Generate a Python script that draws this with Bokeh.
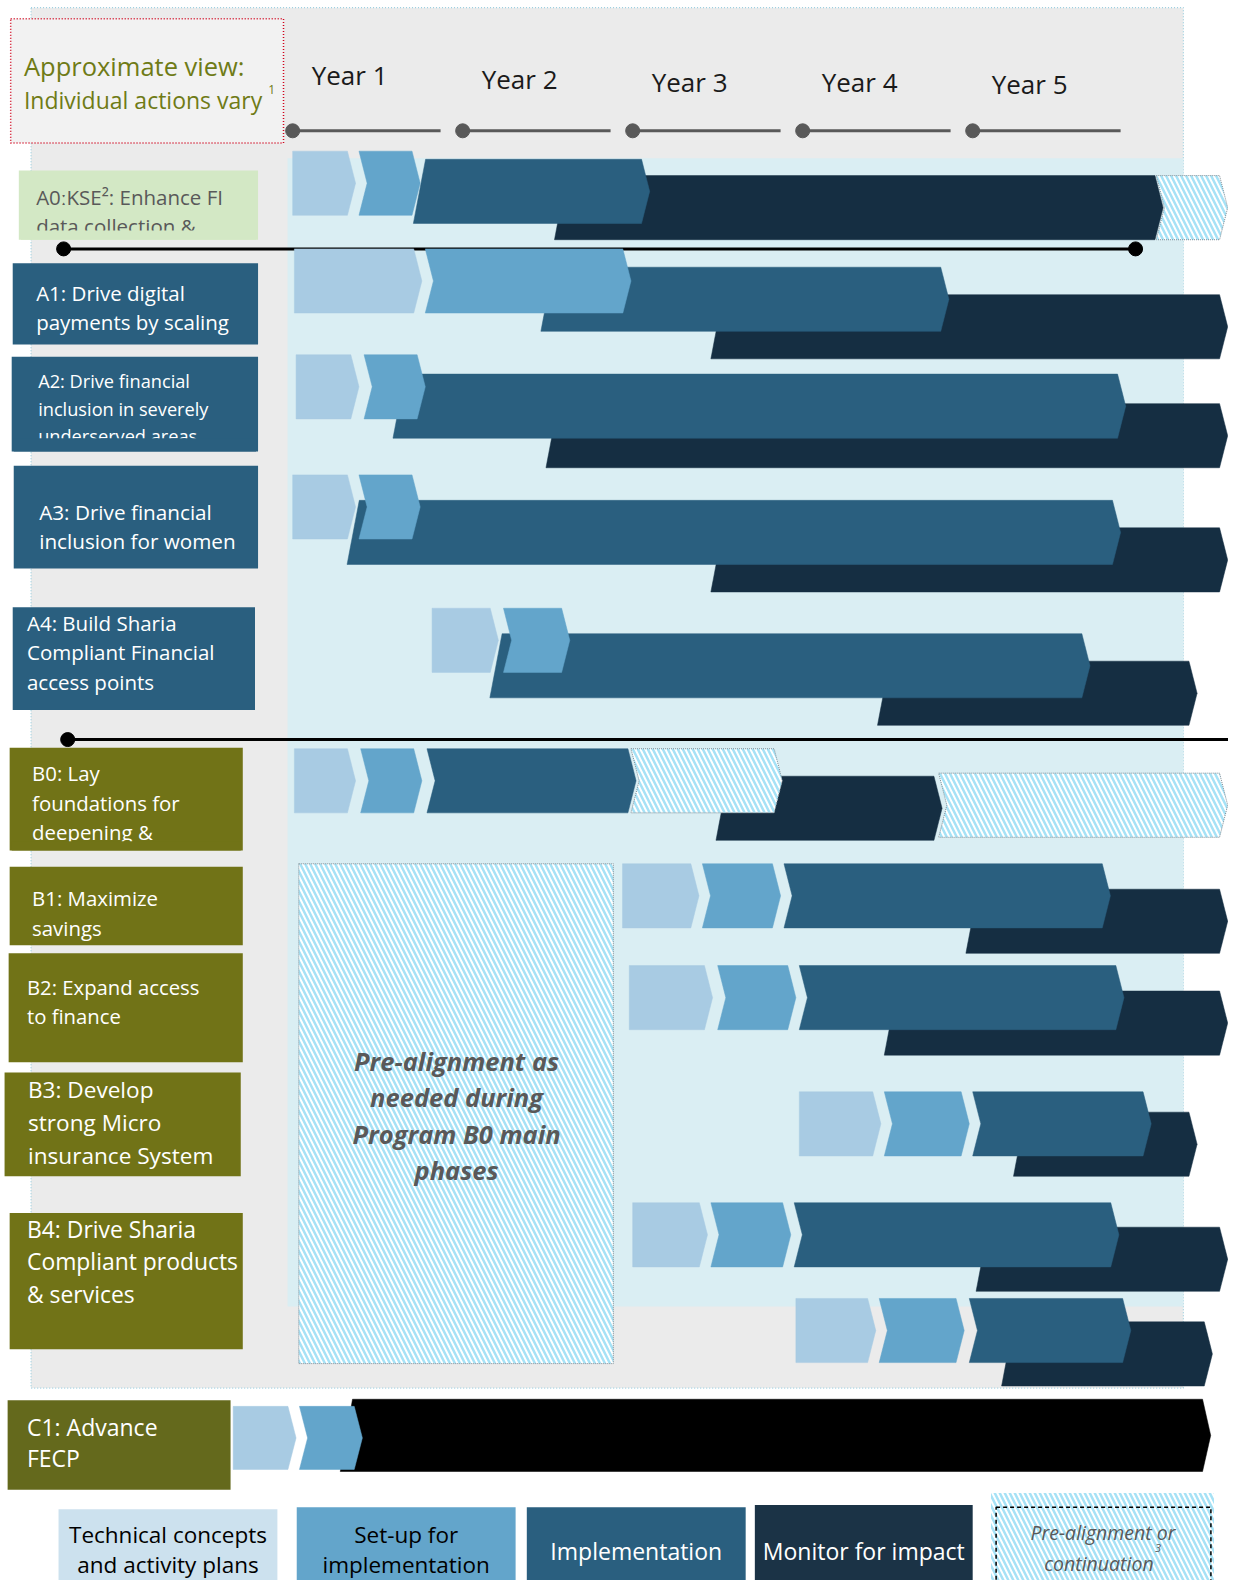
from bokeh.plotting import figure
from bokeh.models import Range1d, ColumnDataSource
from bokeh.core.properties import value
from bokeh.embed import file_html
from bokeh.resources import INLINE

# ---------------- data: phase start/end in years from start of Year 1 ----------------
ROWS = ["A0", "A1", "A2", "A3", "A4", "B0", "B1", "B2", "B3", "B4a", "B4b", "C1"]

tech_start = [0.00, 0.01, 0.02, 0.00, 0.82, 0.01, 1.94, 1.98, 2.98, 2.00, 2.96, -0.35]
tech_end = [0.37, 0.76, 0.39, 0.37, 1.21, 0.37, 2.39, 2.47, 3.46, 2.44, 3.43, 0.02]
setup_start = [0.39, 0.78, 0.42, 0.39, 1.24, 0.40, 2.41, 2.50, 3.48, 2.46, 3.45, 0.04]
setup_end = [0.75, 1.99, 0.78, 0.75, 1.63, 0.76, 2.87, 2.96, 3.98, 2.93, 3.95, 0.41]

impl_rows = ["A0", "A1", "A2", "A3", "A4", "B0", "B1", "B2", "B3", "B4a", "B4b"]
impl_start = [0.71, 1.46, 0.59, 0.32, 1.16, 0.79, 2.89, 2.98, 4.00, 2.95, 3.98]
impl_end = [2.10, 3.86, 4.90, 4.87, 4.69, 2.02, 4.81, 4.89, 5.05, 4.86, 4.93]

mon_rows = ["A0", "A1", "A2", "A3", "A4", "B0", "B1", "B2", "B3", "B4a", "B4b"]
mon_start = [1.54, 2.46, 1.49, 2.46, 3.44, 2.49, 3.96, 3.48, 4.24, 4.02, 4.17]
mon_end = [5.12, 5.50, 5.50, 5.50, 5.32, 3.82, 5.50, 5.50, 5.32, 5.50, 5.41]

cont_rows = ["A0", "B0", "B0"]
cont_start = [5.08, 1.99, 3.80]
cont_end = [5.50, 2.88, 5.50]

fecp_start = [0.28]
fecp_end = [5.40]

years = ["Year 1", "Year 2", "Year 3", "Year 4", "Year 5"]

labels = {
    "A0": ["A0\u02d0KSE\u00b2: Enhance FI", "data collection &"],
    "A1": ["A1: Drive digital", "payments by scaling"],
    "A2": ["A2: Drive financial", "inclusion in severely", "underserved areas"],
    "A3": ["A3: Drive financial", "inclusion for women"],
    "A4": ["A4: Build Sharia", "Compliant Financial", "access points"],
    "B0": ["B0: Lay", "foundations for", "deepening &"],
    "B1": ["B1: Maximize", "savings"],
    "B2": ["B2: Expand access", "to finance"],
    "B3": ["B3: Develop", "strong Micro", "insurance System"],
    "B4": ["B4: Drive Sharia", "Compliant products", "& services"],
    "C1": ["C1: Advance", "FECP"],
}
legend_texts = [["Technical concepts", "and activity plans"], ["Set-up for", "implementation"],
                ["Implementation"], ["Monitor for impact"], ["Pre-alignment or", "continuation"]]
pre_text = ["Pre-alignment as", "needed during", "Program B0 main", "phases"]

# ---------------- layout (units: pixels of the reference frame shown at 1222x1568) ----------------
SCALE = 1244 / 1222.0
FRAME_W = 1228 / SCALE
FRAME_H = 1580 / SCALE

ROW_TOP = {  # (technical/set-up top, implementation top, monitor top)
    "A0": (148, 156, 172), "A1": (244, 262, 289), "A2": (348, 367, 396),
    "A3": (466, 491, 518), "A4": (597, 622, 649), "B0": (735, 735, 762),
    "B1": (848, 848, 873), "B2": (948, 948, 973), "B3": (1072, 1072, 1092),
    "B4a": (1181, 1181, 1205), "B4b": (1275, 1275, 1298), "C1": (1381, 1374, 0),
}
CONT_TOP = [172, 735, 759]
BAR_H = 63
PT = 8 / 167.0     # arrow tip depth (years)
SL = 12 / 167.0    # left slant (years)

C_TECH, C_SETUP, C_IMPL, C_MON = "#A8CBE3", "#63A5CB", "#2A5F7F", "#152E42"
OLIVE, OLIVE2, GREY_BG, CYAN_BG = "#717317", "#64691C", "#EBEBEB", "#DAEEF3"
HATCH = dict(hatch_pattern="\\", hatch_color="#A6E2F6", hatch_weight=2.5, hatch_scale=10)
FONT = "Open Sans"

x0_year = -287 / 167.0
x1_year = (FRAME_W - 287) / 167.0
p = figure(width=1228, height=1580, x_range=Range1d(x0_year, x1_year), y_range=Range1d(FRAME_H, 0),
           output_backend="svg", toolbar_location=None, min_border=0)
p.extra_x_ranges = {"px": Range1d(0, FRAME_W)}
p.axis.visible = False
p.grid.visible = False
p.outline_line_color = None
p.background_fill_color = "white"


def shape(kind, a, b, yt, h=BAR_H):
    ym, yb = yt + h / 2.0, yt + h
    if kind == "pent":
        return [a, b - PT, b, b - PT, a], [yt, yt, ym, yb, yb]
    if kind == "chev":
        return [a, b - PT, b, b - PT, a, a + PT], [yt, yt, ym, yb, yb, ym]
    return [a + SL, b - PT, b, b - PT, a], [yt, yt, ym, yb, yb]


def rect(x0, y0, x1, y1, **kw):
    p.quad(left=[x0], right=[x1], top=[y0], bottom=[y1], x_range_name="px", **kw)


def txt(x, y, lines, gap, size, color, align="left", style="normal"):
    src = ColumnDataSource(dict(x=[x] * len(lines), y=[y + i * gap for i in range(len(lines))], t=lines))
    p.text(x="x", y="y", text="t", source=src, x_range_name="px", text_font=value(FONT),
           text_font_size=value(f"{size}px"), text_color=color, text_align=align,
           text_baseline="middle", text_font_style=style)


# ---------------- background panels ----------------
rect(30, 7, 1162, 1363, fill_color=GREY_BG, line_color="#9CCFE0", line_dash="1 2", line_width=1.2)
rect(282, 155, 1162, 1283, fill_color=CYAN_BG, line_color=None)
rect(293, 848, 602, 1339, fill_color="white", line_color="#7F8C94", line_dash="1 1", line_width=1, **HATCH)
txt(448, 1042, pre_text, 35.5, 25.5, "#595959", align="center", style="bold italic")

# title box
rect(10, 18, 278, 140, fill_color="#F2F2F2", line_color="#D0021B", line_dash="1 2", line_width=1.5)
txt(23, 64, ["Approximate view:"], 0, 25.5, "#6F7B16")
txt(23, 98, ["Individual actions vary"], 0, 23, "#6F7B16")
txt(263, 87, ["1"], 0, 12, "#6F7B16")

# timeline
yr = list(range(len(years)))
p.segment(x0=yr, x1=[k + 0.87 for k in yr], y0=[128] * 5, y1=[128] * 5, line_color="#595959", line_width=3)
p.scatter(x=yr, y=[128] * 5, size=14, color="#595959")
ysrc = ColumnDataSource(dict(x=[k + 0.335 for k in yr], y=[73, 77, 80, 80, 82], t=years))
p.text(x="x", y="y", text="t", source=ysrc, text_font=value(FONT), text_font_size=value("26px"),
       text_color="#1A1A1A", text_align="center", text_baseline="middle")

# separators
for (xa, xb, yy) in [(62, 1115, 244), (66, 1216, 726)]:
    p.segment(x0=[xa], x1=[xb], y0=[yy], y1=[yy], x_range_name="px", line_color="black", line_width=3)
    p.scatter(x=[xa, xb], y=[yy, yy], x_range_name="px", size=14, color="black")

# ---------------- bars ----------------
def patches(xs_list, ys_list, color, **kw):
    p.patches(xs=xs_list, ys=ys_list, fill_color=color, line_color=color, line_width=0.5, **kw)


fx, fy = [], []
for a, b in zip(fecp_start, fecp_end):
    xs, ys = shape("slant", a, b, ROW_TOP["C1"][1], 71)
    fx.append(xs); fy.append(ys)
patches(fx, fy, "black")

mx, my = [], []
for r, a, b in zip(mon_rows, mon_start, mon_end):
    xs, ys = shape("slant", a, b, ROW_TOP[r][2])
    mx.append(xs); my.append(ys)
patches(mx, my, C_MON)

ix, iy = [], []
for r, a, b in zip(impl_rows, impl_start, impl_end):
    top = ROW_TOP[r][1]
    kind = "chev" if top == ROW_TOP[r][0] else "slant"
    xs, ys = shape(kind, a, b, top)
    ix.append(xs); iy.append(ys)
patches(ix, iy, C_IMPL)

cx, cy = [], []
for r, a, b, t in zip(cont_rows, cont_start, cont_end, CONT_TOP):
    xs, ys = shape("chev", a, b, t)
    cx.append(xs); cy.append(ys)
p.patches(xs=cx, ys=cy, fill_color="white", line_color="#7F8C94", line_dash="1 1", line_width=1, **HATCH)

sx, sy, tx, ty = [], [], [], []
for r, a, b, c, d in zip(ROWS, setup_start, setup_end, tech_start, tech_end):
    h = 62 if r == "C1" else BAR_H
    xs, ys = shape("chev", a, b, ROW_TOP[r][0], h)
    sx.append(xs); sy.append(ys)
    xs, ys = shape("pent", c, d, ROW_TOP[r][0], h)
    tx.append(xs); ty.append(ys)
patches(sx, sy, C_SETUP)
patches(tx, ty, C_TECH)

# ---------------- row labels ----------------
LABEL_BOX = {  # x0, y0, x1, y1, fill, text colour, text x, first line y, gap, size, clip y
    "A0": (18, 167, 253, 235, "#D3E8C5", "#595959", 35, 193, 29, 20.5, 226),
    "A1": (12, 258, 253, 338, C_IMPL, "white", 35, 287, 29, 20.5, None),
    "A2": (11, 350, 253, 443, C_IMPL, "white", 37, 374, 27, 18.2, 430),
    "A3": (13, 457, 253, 558, C_IMPL, "white", 38, 502, 29, 20.7, None),
    "A4": (12, 596, 250, 697, C_IMPL, "white", 26, 611, 29, 20.5, None),
    "B0": (9, 734, 238, 835, OLIVE, "white", 31, 759, 29, 20.4, 826),
    "B1": (9, 851, 238, 928, OLIVE, "white", 31, 882, 29, 20.4, None),
    "B2": (8, 936, 238, 1043, OLIVE, "white", 26, 969, 29, 20.3, None),
    "B3": (4, 1053, 236, 1155, OLIVE, "white", 27, 1070, 32.5, 22.6, None),
    "B4": (9, 1191, 238, 1325, OLIVE, "white", 26, 1207, 32, 22.9, None),
    "C1": (7, 1375, 226, 1463, OLIVE2, "white", 26, 1401, 31, 23, None),
}
for key, (x0, y0, x1, y1, fill, tc, tx_, ty_, gap, size, clip) in LABEL_BOX.items():
    rect(x0, y0, x1, y1, fill_color=fill, line_color=None)
    txt(tx_, ty_, labels[key], gap, size, tc)
    if clip is not None:
        rect(x0 + 2, clip, x1 - 2, y1, fill_color=fill, line_color=None)

# ---------------- legend ----------------
LEG = [  # x0, y0, x1, y1, fill, text colour
    (57, 1482, 272, 1568, "#CCE1EE", "black"),
    (291, 1480, 506, 1568, C_SETUP, "black"),
    (517, 1480, 732, 1568, C_IMPL, "white"),
    (741, 1478, 955, 1568, "#1B3346", "white"),
]
for (x0, y0, x1, y1, fill, tc), lines in zip(LEG, legend_texts[:4]):
    rect(x0, y0, x1, y1, fill_color=fill, line_color=None)
    cxm = (x0 + x1) / 2
    if len(lines) == 2:
        txt(cxm, 1507, lines, 29.5, 22.5, tc, align="center")
    else:
        txt(cxm, 1523, lines, 0, 23, tc, align="center")

rect(973, 1466, 1192, 1568, fill_color="white", line_color=None, **HATCH)
rect(978, 1480, 1189, 1566, fill_color=None, line_color="black", line_dash="4 3", line_width=1.5)
txt(1083, 1505, legend_texts[4][:1], 0, 19.5, "#595959", align="center", style="italic")
txt(1079, 1535, legend_texts[4][1:], 0, 19.5, "#595959", align="center", style="italic")
txt(1137, 1520, ["3"], 0, 11, "#595959", align="center", style="italic")

open("out.html", "w").write(file_html(p, INLINE))
